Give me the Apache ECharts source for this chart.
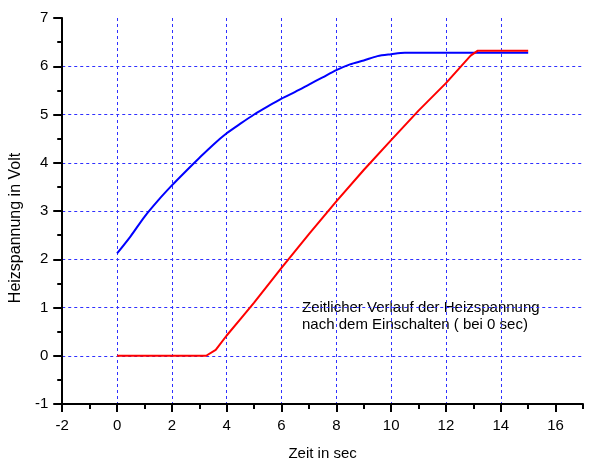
<!DOCTYPE html>
<html>
<head>
<meta charset="utf-8">
<script src="https://cdn.jsdelivr.net/npm/echarts@6/dist/echarts.min.js"></script>
<style>
  html, body { margin: 0; padding: 0; background: #fff; }
  #chart { width: 600px; height: 467px; }
</style>
</head>
<body>
<div id="chart"></div>
<script>
// Werte (Zeit in sec, Spannung in Volt)
const blueTime = [0, 0.5, 1, 1.5, 2, 2.5, 3, 3.5, 4, 4.5, 5, 5.5, 6, 6.5, 7, 7.5, 8, 8.5, 9, 9.5, 10, 10.5, 15]
const blueVolt = [2.12, 2.48, 2.88, 3.22, 3.53, 3.82, 4.1, 4.37, 4.61, 4.81, 5.0, 5.17, 5.33, 5.47, 5.62, 5.77, 5.92, 6.04, 6.12, 6.21, 6.25, 6.28, 6.28]

const redTime = [0, 3.25, 3.6, 4, 4.5, 5, 6, 7, 8, 9, 10, 11, 12, 12.9, 13.15, 15]
const redVolt = [0, 0, 0.12, 0.42, 0.76, 1.1, 1.82, 2.52, 3.2, 3.85, 4.47, 5.08, 5.65, 6.22, 6.32, 6.32]

const xMajorTicks = [-2, 0, 2, 4, 6, 8, 10, 12, 14, 16]

const FONT = 'Liberation Sans, Arial, sans-serif'
const GRID_COLOR = '#3030ff'

const toPairs = (xs, ys) => xs.map((x, i) => [x, ys[i]])

const chart = echarts.init(document.getElementById('chart'))

const option = {
  backgroundColor: '#ffffff',
  animation: false,
  grid: {
    left: 58,
    right: 17,
    top: 18,
    bottom: 63,
  },
  xAxis: [
    {
      type: 'value',
      min: -2,
      max: 17,
      interval: 2,
      name: 'Zeit in sec',
      nameLocation: 'middle',
      nameGap: 42,
      nameTextStyle: { color: '#000', fontSize: 15, fontFamily: FONT },
      axisLine: { onZero: false, lineStyle: { color: '#000', width: 2 } },
      axisTick: {
        length: 8,
        customValues: xMajorTicks,
        lineStyle: { color: '#000', width: 2 },
      },
      axisLabel: {
        customValues: xMajorTicks,
        color: '#000',
        fontSize: 15,
        fontFamily: FONT,
        margin: 14,
        formatter: (v) => (v === 17 ? '' : String(v)),
      },
      splitLine: {
        show: true,
        showMaxLine: false,
        lineStyle: { color: GRID_COLOR, type: [3, 3], width: 1 },
      },
    },
    {
      // nur kurze Striche an jeder ganzen Sekunde
      type: 'value',
      position: 'bottom',
      min: -2,
      max: 17,
      interval: 1,
      axisLine: { show: false, onZero: false },
      axisTick: { length: 5, lineStyle: { color: '#000', width: 2 } },
      axisLabel: { show: false },
      splitLine: { show: false },
    },
  ],
  yAxis: {
    type: 'value',
    min: -1,
    max: 7,
    interval: 1,
    name: 'Heizspannung in Volt',
    nameLocation: 'middle',
    nameGap: 38,
    nameTextStyle: { color: '#000', fontSize: 16, fontFamily: FONT, padding: [0, 34, 0, 0] },
    axisLine: { show: true, onZero: false, lineStyle: { color: '#000', width: 2 } },
    axisTick: { show: true, length: 9, lineStyle: { color: '#000', width: 2 } },
    minorTick: { show: true, splitNumber: 2, length: 5, lineStyle: { color: '#000', width: 2 } },
    axisLabel: { color: '#000', fontSize: 15, fontFamily: FONT, margin: 14 },
    splitLine: {
      show: true,
      showMinLine: false,
      showMaxLine: false,
      lineStyle: { color: GRID_COLOR, type: [3, 3], width: 1 },
    },
  },
  graphic: [
    {
      type: 'text',
      left: 302,
      top: 299,
      style: {
        text: 'Zeitlicher Verlauf der Heizspannung\nnach dem Einschalten ( bei 0 sec)',
        fill: '#000',
        font: '15px ' + FONT,
        lineHeight: 17,
      },
    },
  ],
  series: [
    {
      type: 'line',
      xAxisIndex: 0,
      data: toPairs(blueTime, blueVolt),
      showSymbol: false,
      smooth: 0.3,
      lineStyle: { color: '#0000ff', width: 2 },
      z: 3,
    },
    {
      type: 'line',
      xAxisIndex: 0,
      data: toPairs(redTime, redVolt),
      showSymbol: false,
      lineStyle: { color: '#ff0000', width: 2 },
      z: 4,
    },
  ],
}

chart.setOption(option)
</script>
</body>
</html>
